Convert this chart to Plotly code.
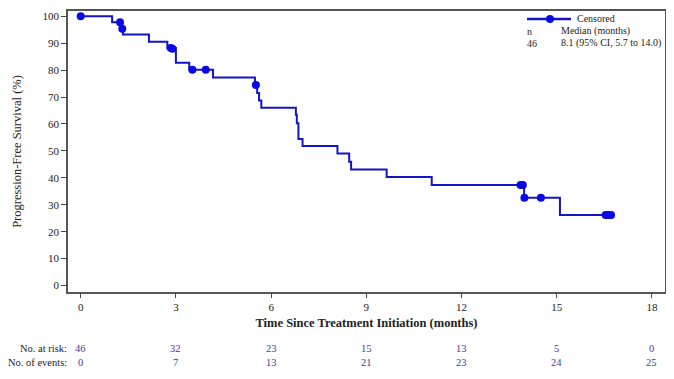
import plotly.graph_objects as go

# ---- data ----
step_times = [0.0, 0.99, 1.27, 1.33, 2.15, 2.73, 3.00, 3.42, 4.17, 5.49, 5.56, 5.62, 5.69,
              6.78, 6.81, 6.86, 6.99, 8.09, 8.46, 8.52, 9.64, 11.06, 13.97, 15.10, 16.71]
step_surv = [100.0, 97.8, 95.4, 93.2, 90.5, 88.2, 82.7, 80.1, 77.3, 74.5, 71.5, 68.7, 66.0,
             63.4, 60.3, 54.4, 51.8, 49.0, 46.0, 43.1, 40.3, 37.3, 32.6, 26.2, 26.2]

censor_times = [0.0, 1.24, 1.31, 2.84, 2.89, 3.52, 3.94, 5.52, 13.86, 13.93, 13.98, 14.50,
                16.54, 16.62, 16.71]
censor_surv = [100.0, 97.8, 95.4, 88.2, 87.9, 80.1, 80.1, 74.5, 37.3, 37.3, 32.6, 32.6,
               26.2, 26.2, 26.2]

risk_times = [0, 3, 6, 9, 12, 15, 18]
at_risk = [46, 32, 23, 15, 13, 5, 0]
n_events = [0, 7, 13, 21, 23, 24, 25]

x_ticks = [0, 3, 6, 9, 12, 15, 18]
y_ticks = [0, 10, 20, 30, 40, 50, 60, 70, 80, 90, 100]

legend_label = "Censored"
n_total = "46"
median_text = "8.1 (95% CI, 5.7 to 14.0)"

FONT = "Liberation Serif, Times New Roman, serif"
LINE_COL = "#1414c8"
MARK_COL = "#0a0ae6"
RISK_COL = "#3b3ba0"

fig = go.Figure()
fig.add_trace(go.Scatter(x=step_times, y=step_surv, mode="lines", line_shape="hv",
                         line=dict(color=LINE_COL, width=2), showlegend=False,
                         hoverinfo="skip"))
fig.add_trace(go.Scatter(x=censor_times, y=censor_surv, mode="markers",
                         marker=dict(color=MARK_COL, size=8, line=dict(width=0)),
                         showlegend=False))

# page body has an 8px margin, so the figure is drawn 8px right/down of the window origin
OFF = 8
W, H = 674, 379
# desired plot area in window pixels: x 68..665, y 9..292.5
ML = 68 - OFF
MT = 9 - OFF
MR = W - (665 - OFF)
MB = H - (292.5 - OFF)
PW, PH = W - ML - MR, H - MT - MB

def px(xw):
    return (xw - OFF - ML) / PW

def py(yw):
    return (H - MB - (yw - OFF)) / PH

annotations = []
# risk table
for lbl, vals, yw in (("No. at risk:", at_risk, 349.5), ("No. of events:", n_events, 363.5)):
    annotations.append(dict(text=lbl, xref="paper", yref="paper", x=px(69), y=py(yw),
                            xanchor="right", yanchor="middle", showarrow=False,
                            font=dict(family=FONT, size=10.5, color="#222")))
    for t, v in zip(risk_times, vals):
        annotations.append(dict(text=str(v), xref="x", yref="paper", x=t, y=py(yw),
                                xanchor="center", yanchor="middle", showarrow=False,
                                font=dict(family=FONT, size=10.5, color=RISK_COL)))

# legend block
def txt(s, xw, yw):
    return dict(text=s, xref="paper", yref="paper", x=px(xw), y=py(yw),
                xanchor="left", yanchor="middle", showarrow=False,
                font=dict(family=FONT, size=10, color="#222"))

annotations += [
    txt(legend_label, 575, 17),
    txt("n", 525, 29.5),
    txt("Median (months)", 559, 29.5),
    txt(n_total, 525, 41.5),
    txt(median_text, 559, 41.5),
]

shapes = [
    dict(type="line", xref="paper", yref="paper", x0=px(527), x1=px(571), y0=py(17), y1=py(17),
         line=dict(color=LINE_COL, width=2.5)),
    dict(type="circle", xref="paper", yref="paper", x0=px(546), x1=px(554),
         y0=py(21), y1=py(13), fillcolor=MARK_COL, line=dict(width=0)),
]

fig.update_layout(
    width=W, height=H,
    margin=dict(l=ML, r=MR, t=MT, b=MB),
    plot_bgcolor="white", paper_bgcolor="white",
    font=dict(family=FONT, size=11, color="#222"),
    annotations=annotations, shapes=shapes,
    xaxis=dict(range=[-0.40, 18.41], tickvals=x_ticks, ticks="outside", ticklen=4,
               tickcolor="#444", showline=True, linecolor="#555", linewidth=1.5,
               mirror=True, showgrid=False, zeroline=False,
               tickfont=dict(family=FONT, size=11, color="#222"),
               title=dict(text="<b>Time Since Treatment Initiation (months)</b>",
                          font=dict(family=FONT, size=12.5, color="#222"), standoff=6)),
    yaxis=dict(range=[-2.4, 101.95], tickvals=y_ticks, ticks="outside", ticklen=5,
               tickcolor="#444", showline=True, linecolor="#555", linewidth=1.5,
               mirror=True, showgrid=False, zeroline=False,
               tickfont=dict(family=FONT, size=11, color="#222"),
               title=dict(text="Progression-Free Survival (%)",
                          font=dict(family=FONT, size=12.5, color="#222"), standoff=18)),
)

fig.write_html("out.html")
